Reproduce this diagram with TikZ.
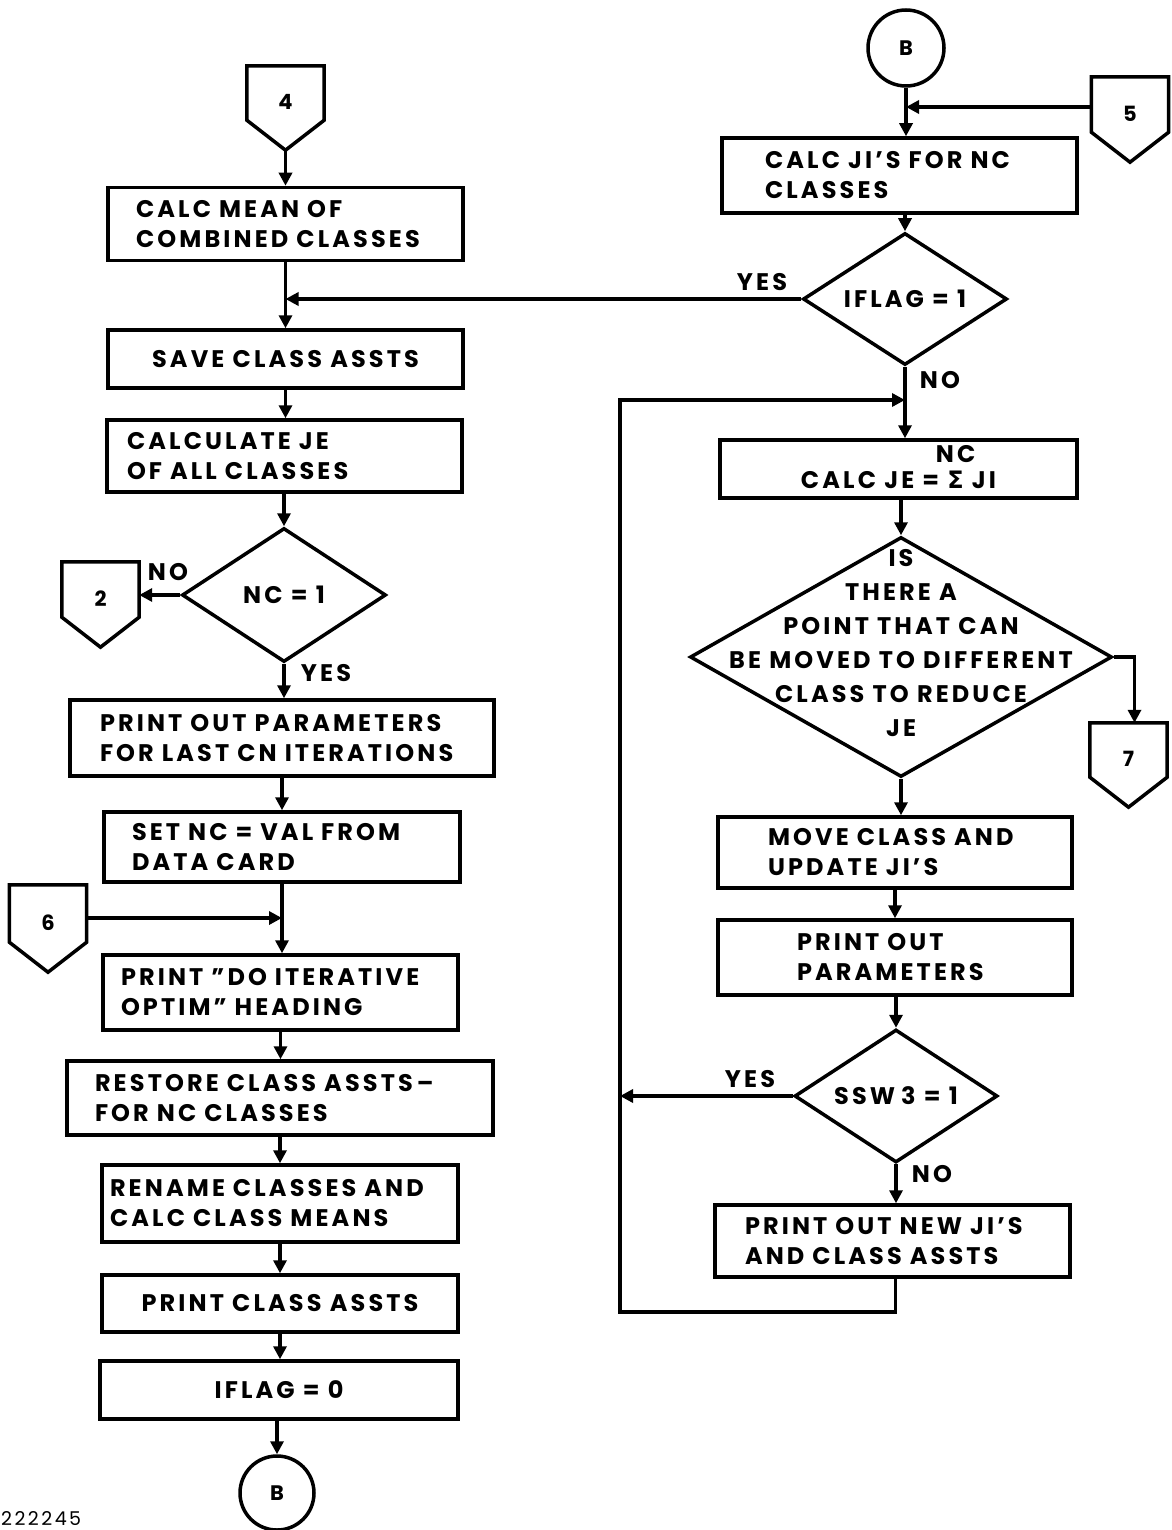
\documentclass[tikz,border=0pt]{standalone}
\usepackage{fontspec}
\setmainfont{Poppins}[LetterSpace=13]
\newfontfamily\sigfont{DejaVu Sans}
\usetikzlibrary{arrows.meta,shapes.geometric,calc}
\newcommand\ml[1]{\mbox{#1}}
\newcommand\qq{\symbol{34}}
\newcommand\offpg[4]{%
  \node[offp,minimum height=#4] (#1) at (#2) {\raisebox{12pt}{#3}};
  \draw[line,line join=miter] (#1.north west) -- (#1.north east) -- ([yshift=30pt]#1.south east) -- (#1.south) -- ([yshift=30pt]#1.south west) -- cycle;}
\tikzset{
  every node/.style={font=\bfseries\fontsize{24}{30}\selectfont},
  line/.style={line width=3.5pt},
  box/.style={draw,line width=3.5pt,rectangle,inner ysep=0pt,align=left},
  cbox/.style={draw,line width=3.5pt,rectangle,inner sep=0pt,align=center},
  dia/.style={draw,line width=3.5pt,diamond,inner sep=0pt},
  arr/.style={line width=3.5pt,-{Triangle[length=13pt,width=13pt]}},
  lbl/.style={inner sep=0pt,align=center},
  offp/.style={inner sep=0pt,minimum width=77pt,font=\bfseries\fontsize{21}{30}\selectfont},
  conn/.style={draw,circle,line width=3.5pt,inner sep=0pt,font=\bfseries\fontsize{21}{30}\selectfont},
}
\begin{document}
\begin{tikzpicture}[x=1pt,y=-1pt]
\useasboundingbox[fill=white] (0,0) rectangle (1171,1530);
% ---------------- left column
\offpg{p4}{285.5,108}{4}{84pt}
\node[box,minimum height=73pt,text width=299pt,inner xsep=28pt] (calcmean) at (285.5,224) {\ml{CALC MEAN OF}\\\ml{COMBINED CLASSES}};
\node[cbox,minimum width=355pt,minimum height=58pt] (save) at (285.5,359) {SAVE CLASS ASSTS};
\node[box,minimum height=72pt,text width=315pt,inner xsep=20pt] (calcje) at (284.5,456) {\ml{CALCULATE JE}\\\ml{OF ALL CLASSES}};
\node[dia,minimum width=204pt,minimum height=134pt] (nc1) at (284,595) {};
\node[lbl] (tnc1) at (284,595) {NC = 1};
\offpg{p2}{100.5,604.5}{2}{85pt}
\node[box,minimum height=76pt,text width=364pt,inner xsep=30pt] (printpar) at (282,738) {\ml{PRINT OUT PARAMETERS}\\\ml{FOR LAST CN ITERATIONS}};
\node[box,minimum height=70pt,text width=300pt,inner xsep=28pt] (setnc) at (282,847) {\ml{SET NC = VAL FROM}\\\ml{DATA CARD}};
\offpg{p6}{48,928.5}{6}{87pt}
\coordinate (j6) at (282,918);
\node[box,minimum height=75pt,text width=319pt,inner xsep=18pt] (printdo) at (280.5,992.5) {\ml{PRINT \qq DO ITERATIVE}\\\ml{OPTIM\qq\ HEADING}};
\node[box,minimum height=74pt,text width=370pt,inner xsep=28pt] (restore) at (280,1098) {\ml{RESTORE CLASS ASSTS\,–}\\\ml{FOR NC CLASSES}};
\node[box,minimum height=77pt,text width=340pt,inner xsep=8pt] (rename) at (280,1203.5) {\ml{RENAME CLASSES AND}\\\ml{CALC CLASS MEANS}};
\node[cbox,minimum width=356pt,minimum height=57pt] (printcls) at (280,1303.5) {PRINT CLASS ASSTS};
\node[cbox,minimum width=358pt,minimum height=58pt] (iflag0) at (279,1390) {IFLAG = 0};
\node[conn,minimum size=74pt] (Bbot) at (277,1493) {B};
% ---------------- right column
\node[conn,minimum size=76pt] (Btop) at (906,48) {B};
\offpg{p5}{1130,119.5}{5}{85pt}
\coordinate (j5) at (906,107);
\node[box,minimum height=75pt,text width=269pt,inner xsep=43pt] (calcji) at (899.5,175.5) {\ml{CALC JI'S FOR NC}\\\ml{CLASSES}};
\node[dia,minimum width=204pt,minimum height=132pt] (iflag) at (905,299) {};
\node[lbl] (tiflag) at (905,299) {IFLAG = 1};
\coordinate (lpt) at (620,400);
\coordinate (lpb) at (620,1312);
\node[cbox,minimum width=357pt,minimum height=58pt] (calcje2) at (898.5,469)
  {CALC JE = \begin{tabular}[b]{@{}c@{}}\makebox[0pt]{NC}\\[-4pt]{\sigfont\bfseries Σ}\end{tabular} JI};
\node[dia,minimum width=422pt,minimum height=240pt] (big) at (901,657) {};
\node[lbl,font=\bfseries\fontsize{24}{34}\selectfont] (tbig) at (901,643) {IS\\THERE A\\POINT THAT CAN\\BE MOVED TO DIFFERENT\\CLASS TO REDUCE\\JE};
\offpg{p7}{1128.5,765}{7}{84pt}
\node[box,minimum height=71pt,text width=254pt,inner xsep=50pt] (move) at (895,852.5) {\ml{MOVE CLASS AND}\\\ml{UPDATE JI'S}};
\node[box,minimum height=75pt,text width=196pt,inner xsep=79pt] (printpar2) at (895,957.5) {\ml{PRINT OUT}\\\ml{PARAMETERS}};
\node[dia,minimum width=203pt,minimum height=133pt] (ssw) at (896,1096) {};
\node[lbl] (tssw) at (896,1096) {SSW\hspace{6pt}3 = 1};
\node[box,minimum height=72pt,text width=295pt,inner xsep=30pt] (newji) at (892.5,1241) {\ml{PRINT OUT NEW JI'S}\\\ml{AND CLASS ASSTS}};
% ---------------- labels
\node[lbl] (yes1) at (762,282) {YES};
\node[lbl] (no1) at (940,380) {NO};
\node[lbl] (no2) at (168,572) {NO};
\node[lbl] (yes2) at (326,673) {YES};
\node[lbl] (yes3) at (750,1079) {YES};
\node[lbl] (no3) at (932,1174) {NO};
\node[lbl,anchor=base west,font=\fontsize{19}{20}\selectfont] (code) at (1,1525) {222245};
% ---------------- connectors left
\draw[arr] (p4) -- (p4 |- calcmean.north);
\draw[arr] (calcmean) -- (calcmean |- save.north);
\draw[arr] (iflag.west) -- (iflag.west -| calcmean.south);
\draw[arr] (save) -- (save |- calcje.north);
\draw[arr] (calcje.south -| nc1.north) -- (nc1.north);
\draw[arr] (nc1.west) -- (nc1.west -| p2.east);
\draw[arr] (nc1.south) -- (nc1.south |- printpar.north);
\draw[arr] (printpar) -- (printpar |- setnc.north);
\draw[arr] (setnc) -- (setnc |- printdo.north);
\draw[arr] (p6.east |- j6) -- (j6);
\draw[arr] (printdo) -- (printdo |- restore.north);
\draw[arr] (restore) -- (restore |- rename.north);
\draw[arr] (rename) -- (rename |- printcls.north);
\draw[arr] (printcls) -- (printcls |- iflag0.north);
\draw[arr] (iflag0.south -| Bbot.north) -- (Bbot.north);
% ---------------- connectors right
\draw[arr] (Btop) -- (Btop |- calcji.north);
\draw[arr] (p5.west |- j5) -- (j5);
\draw[arr] (calcji.south -| iflag.north) -- (iflag.north);
\draw[arr] (iflag.south) -- (iflag.south |- calcje2.north);
\draw[arr] (calcje2.south -| big.north) -- (big.north);
\draw[arr] (big.east) -| ([xshift=6pt]p7.north);
\draw[arr] (big.south) -- (big.south |- move.north);
\draw[arr] (move) -- (move |- printpar2.north);
\draw[arr] (printpar2.south -| ssw.north) -- (ssw.north);
\draw[arr] (ssw.west) -- (ssw.west -| lpt);
\draw[arr] (ssw.south) -- (ssw.south |- newji.north);
\draw[arr] ([xshift=3pt]newji.south) |- (lpb) -- (lpt) -- (lpt -| iflag.south);
\end{tikzpicture}
\end{document}
